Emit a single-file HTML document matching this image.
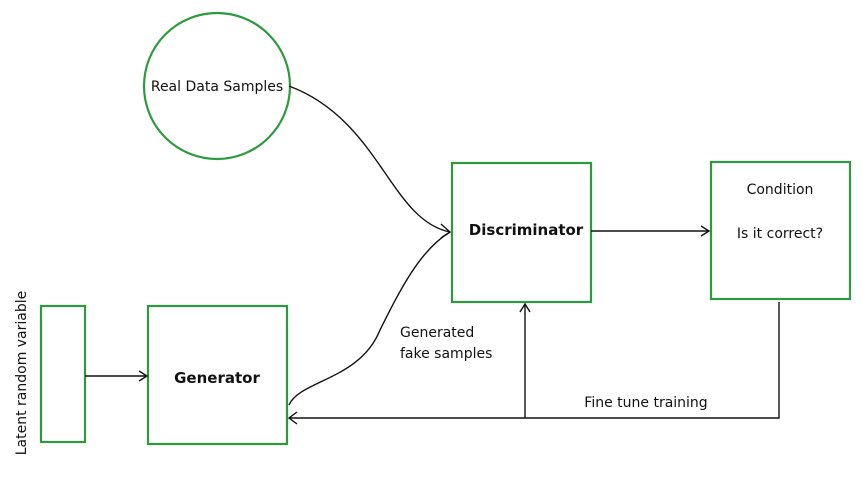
<!DOCTYPE html>
<html><head><style>
body{margin:0;background:#fff;}
svg text{font-family:"DejaVu Sans","Liberation Sans",sans-serif;fill:#111;}
</style></head><body>
<svg width="863" height="483" viewBox="0 0 863 483" xmlns="http://www.w3.org/2000/svg">
<g fill="none" stroke="#2e9a3e" stroke-width="2.2">
<circle cx="217" cy="86" r="73"/>
<rect x="452" y="163" width="139" height="139"/>
<rect x="711" y="162" width="139" height="137"/>
<rect x="148" y="306" width="139" height="138"/>
<rect x="41" y="306" width="44" height="136"/>
</g>
<g fill="none" stroke="#111" stroke-width="1.4">
<path d="M289 86 C380 120 390 220 450 232"/>
<path d="M441 224 L450 232 L441 238"/>
<path d="M289 405 C300 380 360 380 380 330 C400 290 420 250 450 232"/>
<path d="M85 376 H147"/><path d="M139 371 L147 376 L139 381"/>
<path d="M591 231 H709"/><path d="M701 226 L709 231 L701 236"/>
<path d="M779 302 V418 H289"/><path d="M297 412 L289 418 L297 424"/>
<path d="M525 418 V304"/><path d="M520 312 L525 304 L530 312"/>
</g>
<text x="217" y="91" font-size="14" text-anchor="middle">Real Data Samples</text>
<text x="526" y="235" font-size="15" font-weight="bold" text-anchor="middle">Discriminator</text>
<text x="780" y="194" font-size="14" text-anchor="middle">Condition</text>
<text x="780" y="238" font-size="14" text-anchor="middle">Is it correct?</text>
<text x="217" y="383" font-size="15" font-weight="bold" text-anchor="middle">Generator</text>
<text x="400" y="337" font-size="14">Generated</text>
<text x="400" y="358" font-size="14">fake samples</text>
<text x="646" y="407" font-size="14" text-anchor="middle">Fine tune training</text>
<text transform="translate(26,373) rotate(-90)" font-size="14" text-anchor="middle">Latent random variable</text>
</svg>
</body></html>
